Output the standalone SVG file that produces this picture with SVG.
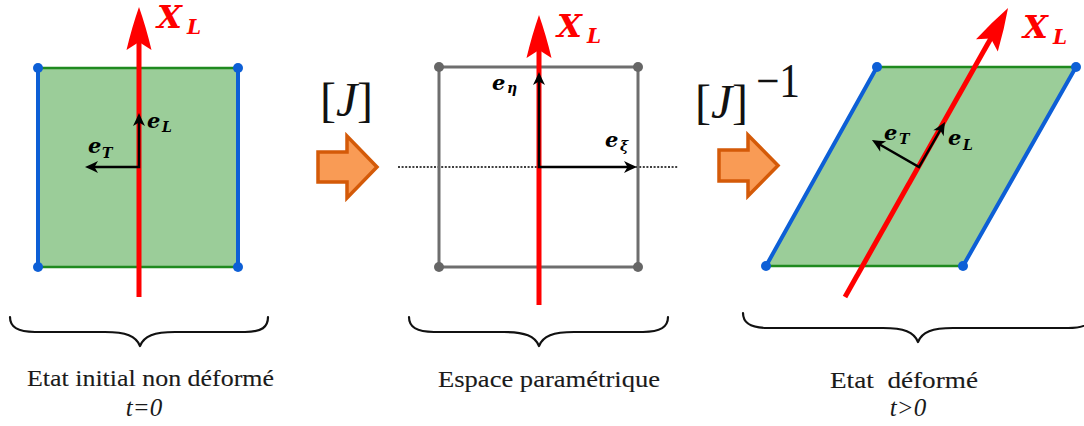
<svg xmlns="http://www.w3.org/2000/svg" width="1084" height="426" viewBox="0 0 1084 426">
<style>
.fill{fill:#9bcd99;stroke:none}
.gedge{stroke:#1f8a1f;stroke-width:2.5;fill:none}
.bedge{stroke:#0d5fd6;stroke-width:4;fill:none;stroke-linecap:round}
.bdot{fill:#0d5fd6}
.gray{stroke:#6e6e6e;stroke-width:3;fill:none}
.gdot{fill:#666}
.axis{stroke:#ff0000;stroke-width:5;fill:none;marker-end:url(#redhead)}
.vec{stroke:#000;stroke-width:2.5;fill:none;stroke-linejoin:miter;marker-start:url(#blkstart);marker-end:url(#blkhead)}
.dots{stroke:#000;stroke-width:1.3;stroke-dasharray:2 1.6;fill:none}
.big{fill:#f99b55;stroke:#d45a08;stroke-width:3.5;stroke-linejoin:miter}
.brace{fill:none;stroke:#111;stroke-width:2.2;stroke-linecap:round;stroke-linejoin:round}
.m{font-family:"DejaVu Serif","Liberation Serif",serif;font-style:italic;font-weight:bold}
.xl{fill:#ff0000;font-size:32px}
.xs{fill:#ff0000;font-size:20px}
.e{fill:#000;font-size:21px}
.es{fill:#000;font-size:14px}
.cap{font-family:"Liberation Serif",serif;font-size:24px;fill:#1a1a1a;stroke:#1a1a1a;stroke-width:0.12;text-anchor:middle;white-space:pre}
.t{font-family:"Liberation Serif",serif;font-size:25px;font-style:italic;fill:#1a1a1a;text-anchor:middle}
.jac{font-family:"Liberation Serif",serif;fill:#111;font-size:48px}
.ji{font-style:italic}
</style>
<defs>
<marker id="redhead" markerUnits="userSpaceOnUse" viewBox="-15 -14 47 28" markerWidth="47" markerHeight="28" refX="0" refY="0" orient="auto">
<path d="M30,0 Q10,-7 -13,-12.5 L-5,0 L-13,12.5 Q10,7 30,0 Z" fill="#ff0000"/>
</marker>
<marker id="blkhead" markerUnits="userSpaceOnUse" viewBox="-8 -7 17 14" markerWidth="17" markerHeight="14" refX="0" refY="0" orient="auto">
<path d="M7,0 Q1,-2.5 -6,-6 L-2.5,0 L-6,6 Q1,2.5 7,0 Z" fill="#000"/>
</marker>
<marker id="blkstart" markerUnits="userSpaceOnUse" viewBox="-8 -7 17 14" markerWidth="17" markerHeight="14" refX="0" refY="0" orient="auto-start-reverse">
<path d="M7,0 Q1,-2.5 -6,-6 L-2.5,0 L-6,6 Q1,2.5 7,0 Z" fill="#000"/>
</marker>
</defs>

<g id="initial">
<rect class="fill" x="38" y="68" width="200" height="199"/>
<line class="gedge" x1="38" y1="68" x2="238" y2="68"/>
<line class="gedge" x1="38" y1="267" x2="238" y2="267"/>
<line class="bedge" x1="38" y1="68" x2="38" y2="267"/>
<line class="bedge" x1="238" y1="68" x2="238" y2="267"/>
<circle class="bdot" cx="38" cy="68" r="5"/>
<circle class="bdot" cx="238" cy="68" r="5"/>
<circle class="bdot" cx="38" cy="267" r="5"/>
<circle class="bdot" cx="238" cy="267" r="5"/>
<line class="axis" x1="139" y1="297" x2="139" y2="37"/>
<path class="vec" d="M139,120 L139,167 L92,167"/>
<text class="m xl" x="157" y="28">X</text><text class="m xs" x="187" y="34">L</text>
<text class="m e" x="147" y="128">e</text><text class="m es" x="162" y="132">L</text>
<text class="m e" x="88" y="153">e</text><text class="m es" x="102" y="158">T</text>
</g>

<g id="parametric">
<line class="dots" x1="398" y1="167" x2="678" y2="167"/>
<rect class="gray" x="439" y="67" width="199" height="200"/>
<circle class="gdot" cx="439" cy="67" r="5"/>
<circle class="gdot" cx="638" cy="67" r="5"/>
<circle class="gdot" cx="439" cy="267" r="5"/>
<circle class="gdot" cx="638" cy="267" r="5"/>
<line class="axis" x1="539" y1="305" x2="539" y2="45"/>
<path class="vec" d="M539,79 L539,167 L630,167"/>
<text class="m xl" x="557" y="37">X</text><text class="m xs" x="587" y="43">L</text>
<text class="m e" x="492" y="90">e</text><text class="m es" x="507" y="93">η</text>
<text class="m e" x="605" y="147">e</text><text class="m es" x="620" y="151">ξ</text>
</g>

<g id="deformed">
<polygon class="fill" points="877,67 1076,67 963,266 766,266"/>
<line class="gedge" x1="877" y1="67" x2="1076" y2="67"/>
<line class="gedge" x1="766" y1="266" x2="963" y2="266"/>
<line class="bedge" x1="766" y1="266" x2="877" y2="67"/>
<line class="bedge" x1="963" y1="266" x2="1076" y2="67"/>
<circle class="bdot" cx="877" cy="67" r="5"/>
<circle class="bdot" cx="1076" cy="67" r="5"/>
<circle class="bdot" cx="766" cy="266" r="5"/>
<circle class="bdot" cx="963" cy="266" r="5"/>
<line class="axis" x1="845" y1="297" x2="993.3" y2="34.1"/>
<path class="vec" d="M941.5,128 L919,167 L878,143.5"/>
<text class="m xl" x="1023" y="38">X</text><text class="m xs" x="1053" y="44">L</text>
<text class="m e" x="884" y="140">e</text><text class="m es" x="899" y="144">T</text>
<text class="m e" x="948" y="145">e</text><text class="m es" x="963" y="150">L</text>
</g>

<g id="connectors">
<g id="jacobian">
<text class="jac" x="320" y="116">[</text>
<text class="jac ji" x="336" y="116">J</text>
<text class="jac" x="357" y="116">]</text>
<polygon class="big" points="318,152 347,152 347,136 377,167 347,198 347,182 318,182"/>
</g>
<g id="inverse-jacobian">
<text class="jac" x="695" y="118">[</text>
<text class="jac ji" x="711" y="118">J</text>
<text class="jac" x="732" y="118">]</text>
<text class="jac" x="756" y="97" font-size="32" textLength="44" lengthAdjust="spacingAndGlyphs">−1</text>
<polygon class="big" points="719,150 748,150 748,135 778,165.5 748,196 748,181 719,181"/>
</g>
</g>

<g id="braces">
<path class="brace" d="M10,317 C10,327 17,332 35,332 L105,332 C126,332 136,336 140,346 C144,336 154,332 175,332 L245,332 C262,332 268,327 268,317"/>
<path class="brace" d="M409,317 C409,327 416,332 434,332 L504,332 C525,332 535,336 539,346 C543,336 553,332 574,332 L643,332 C661,332 668,327 668,317"/>
<path class="brace" d="M743,313 C743,323 750,328 768,328 L883,328 C904,328 914,332 918,342 C922,332 932,328 953,328 L1068,328 C1086,328 1093,323 1093,313"/>
</g>

<g id="captions">
<text class="cap" x="150.5" y="386" textLength="247" lengthAdjust="spacingAndGlyphs">Etat initial non déformé</text>
<text class="t" x="144" y="416">t=0</text>
<text class="cap" x="549" y="387" textLength="222" lengthAdjust="spacingAndGlyphs">Espace paramétrique</text>
<text class="cap" x="904" y="388" textLength="148" lengthAdjust="spacingAndGlyphs">Etat  déformé</text>
<text class="t" x="908" y="416">t&gt;0</text>
</g>
</svg>
